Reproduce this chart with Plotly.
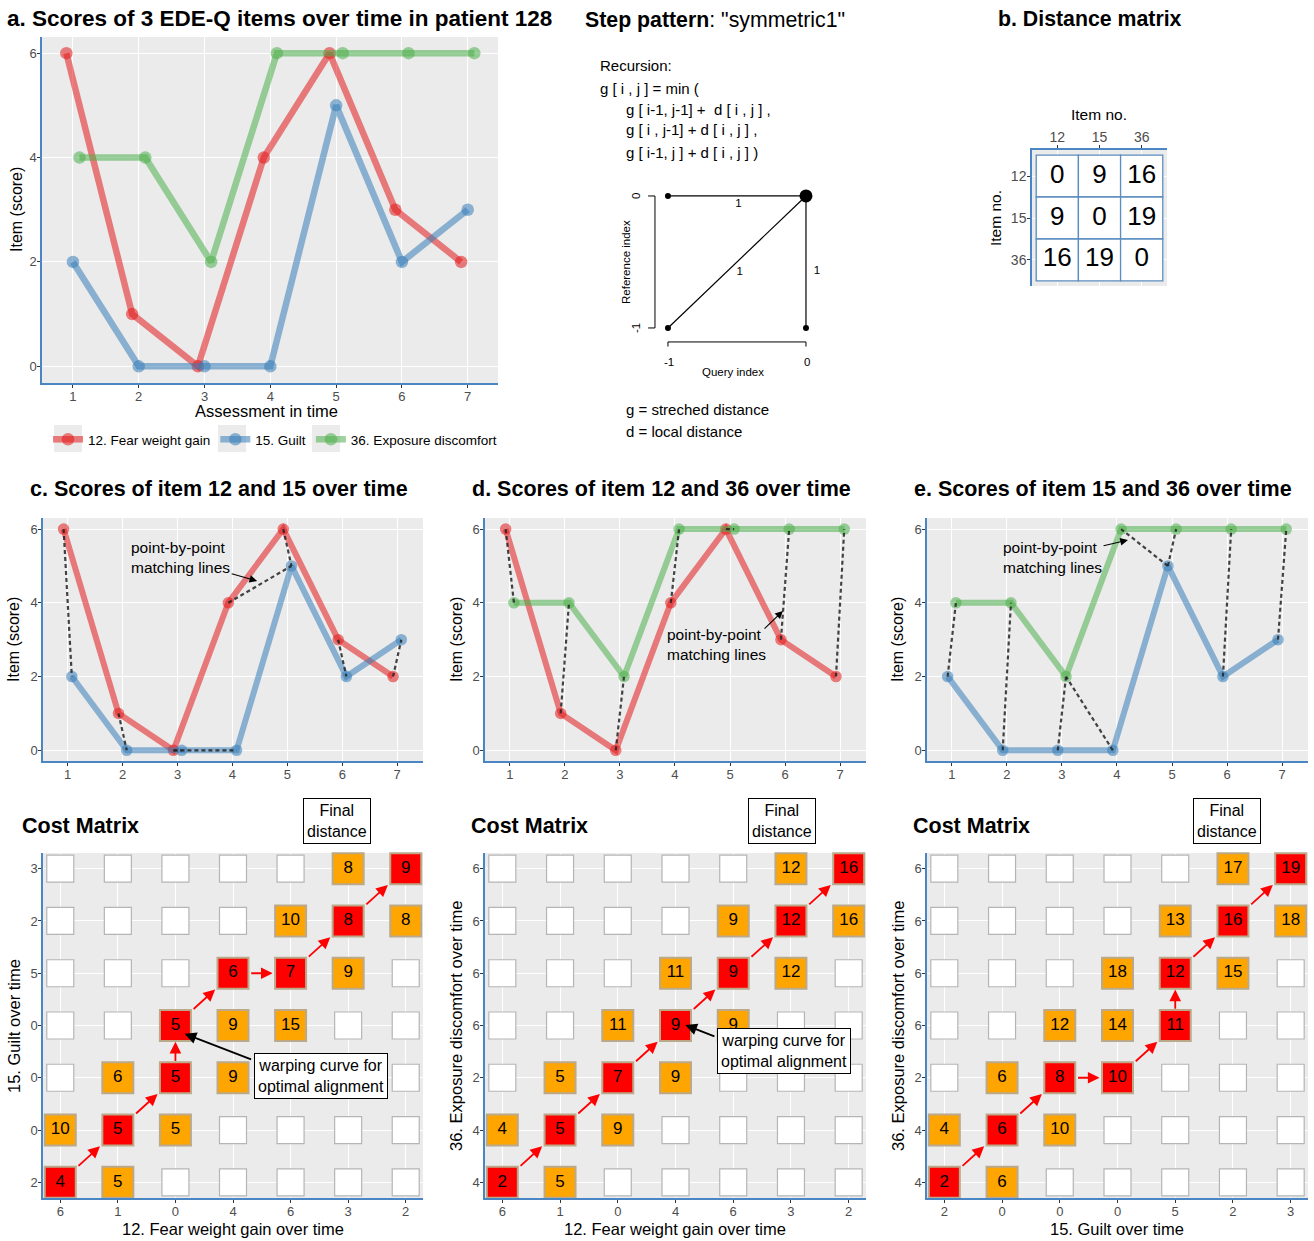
import plotly.graph_objects as go

W, H = 1314, 1241
FONT = "Liberation Sans, Arial, Helvetica, sans-serif"

# ---------------- data ----------------
times = [1, 2, 3, 4, 5, 6, 7]
item12 = [6, 1, 0, 4, 6, 3, 2]
item15 = [2, 0, 0, 0, 5, 2, 3]
item36 = [4, 4, 2, 6, 6, 6, 6]
item_names = ["12. Fear weight gain", "15. Guilt", "36. Exposure discomfort"]
item_ids = ["12", "15", "36"]
line_colors = ["rgba(228,26,28,0.55)", "rgba(55,126,184,0.55)", "rgba(77,175,74,0.55)"]

dist_matrix = [[0, 9, 16],
               [9, 0, 19],
               [16, 19, 0]]

# cumulative DTW cost cells: (query index, reference index, cost)
cost_12_15 = [(1, 1, 4), (2, 1, 5), (1, 2, 10), (2, 2, 5), (3, 2, 5), (2, 3, 6), (3, 3, 5),
              (4, 3, 9), (3, 4, 5), (4, 4, 9), (5, 4, 15), (4, 5, 6), (5, 5, 7), (6, 5, 9),
              (5, 6, 10), (6, 6, 8), (7, 6, 8), (6, 7, 8), (7, 7, 9)]
path_12_15 = [(1, 1), (2, 2), (3, 3), (3, 4), (4, 5), (5, 5), (6, 6), (7, 7)]

cost_12_36 = [(1, 1, 2), (2, 1, 5), (1, 2, 4), (2, 2, 5), (3, 2, 9), (2, 3, 5), (3, 3, 7),
              (4, 3, 9), (3, 4, 11), (4, 4, 9), (5, 4, 9), (4, 5, 11), (5, 5, 9), (6, 5, 12),
              (5, 6, 9), (6, 6, 12), (7, 6, 16), (6, 7, 12), (7, 7, 16)]
path_12_36 = [(1, 1), (2, 2), (3, 3), (4, 4), (5, 5), (6, 6), (7, 7)]

cost_15_36 = [(1, 1, 2), (2, 1, 6), (1, 2, 4), (2, 2, 6), (3, 2, 10), (2, 3, 6), (3, 3, 8),
              (4, 3, 10), (3, 4, 12), (4, 4, 14), (5, 4, 11), (4, 5, 18), (5, 5, 12), (6, 5, 15),
              (5, 6, 13), (6, 6, 16), (7, 6, 18), (6, 7, 17), (7, 7, 19)]
path_15_36 = [(1, 1), (2, 2), (3, 3), (4, 3), (5, 4), (5, 5), (6, 6), (7, 7)]

# step pattern "symmetric1": predecessors of (0,0) with weights
step_from = [(-1, 0), (-1, -1), (0, -1)]
step_weights = [1, 1, 1]


# ---------------- helpers ----------------
def xd(a, b):
    return [a / W, b / W]


def yd(top, bot):
    return [1 - bot / H, 1 - top / H]


def px(x):
    return x / W


def py(y):
    return 1 - y / H


AXIS_BLUE = "#4A86C3"
TICKFONT = dict(family=FONT, size=13, color="#4D4D4D")


def axis(domain, rng, anchor, **kw):
    d = dict(domain=domain, range=rng, anchor=anchor, showgrid=True, gridcolor="white",
             gridwidth=1.1, zeroline=False, showline=True, linecolor=AXIS_BLUE, linewidth=1.5,
             ticks="outside", ticklen=3, tickcolor="#333333", tickwidth=1,
             tickfont=TICKFONT, ticklabelstandoff=-2, fixedrange=True)
    d.update(kw)
    return d


fig = go.Figure()
annotations = []
shapes = []


def text(t, x, y, size=14.5, xanchor="left", yanchor="middle", angle=0, color="black", **kw):
    a = dict(text=t, x=px(x), y=py(y), xref="paper", yref="paper", showarrow=False,
             xanchor=xanchor, yanchor=yanchor, textangle=angle,
             font=dict(family=FONT, size=size, color=color))
    a.update(kw)
    annotations.append(a)


def gray_panel(xa, ya):
    shapes.append(dict(type="rect", xref=xa + " domain", yref=ya + " domain", x0=0, x1=1,
                       y0=0, y1=1, fillcolor="#EBEBEB", line=dict(width=0), layer="below"))


# ---------------- panel a ----------------
series = [item12, item15, item36]
offsets_a = [-0.1, 0.0, 0.1]
for vals, name, col, off in zip(series, item_names, line_colors, offsets_a):
    fig.add_trace(go.Scatter(x=[t + off for t in times], y=vals, mode="lines+markers", name=name,
                             line=dict(color=col, width=6.5),
                             marker=dict(color=col, size=12.5),
                             xaxis="x", yaxis="y", showlegend=True))
gray_panel("x", "y")
# grey key backgrounds behind the legend symbols
for cx in (68, 232, 326):
    shapes.append(dict(type="rect", xref="paper", yref="paper", x0=px(cx - 14), x1=px(cx + 14),
                       y0=py(452), y1=py(425), fillcolor="#EBEBEB", line=dict(width=0),
                       layer="below"))

# ---------------- panel b: distance matrix ----------------
for i, row in enumerate(dist_matrix):
    for j, v in enumerate(row):
        shapes.append(dict(type="rect", xref="x2", yref="y2", x0=j + 0.5, x1=j + 1.5,
                           y0=i + 0.5, y1=i + 1.5, fillcolor="white",
                           line=dict(color="#5B8DC0", width=1.3), layer="between"))
fig.add_trace(go.Scatter(
    x=[j + 1 for i in range(3) for j in range(3)],
    y=[i + 1 for i in range(3) for j in range(3)],
    text=[str(dist_matrix[i][j]) for i in range(3) for j in range(3)],
    mode="text", textfont=dict(family=FONT, size=26, color="black"),
    xaxis="x2", yaxis="y2", showlegend=False, hoverinfo="skip"))
gray_panel("x2", "y2")

# ---------------- step pattern diagram ----------------
seg_x, seg_y = [], []
for (qx, ry) in step_from:
    seg_x += [qx, 0, None]
    seg_y += [ry, 0, None]
fig.add_trace(go.Scatter(x=seg_x, y=seg_y, mode="lines", line=dict(color="black", width=1.2),
                         xaxis="x3", yaxis="y3", showlegend=False, hoverinfo="skip"))
fig.add_trace(go.Scatter(x=[p[0] for p in step_from], y=[p[1] for p in step_from], mode="markers",
                         marker=dict(color="black", size=6), xaxis="x3", yaxis="y3",
                         showlegend=False, hoverinfo="skip", cliponaxis=False))
fig.add_trace(go.Scatter(x=[0], y=[0], mode="markers", marker=dict(color="black", size=13),
                         xaxis="x3", yaxis="y3", showlegend=False, hoverinfo="skip",
                         cliponaxis=False))
# weight labels placed along each step segment
wl_pos = [(-0.49, -0.06), (-0.48, -0.58), (0.08, -0.57)]
fig.add_trace(go.Scatter(x=[p[0] for p in wl_pos], y=[p[1] for p in wl_pos],
                         text=[str(w) for w in step_weights], mode="text",
                         textfont=dict(family=FONT, size=11.5, color="black"),
                         xaxis="x3", yaxis="y3", showlegend=False, hoverinfo="skip"))
# bracket-style axes of the step diagram
bx, by = -1.094, -1.106
shapes += [
    dict(type="line", xref="x3", yref="y3", x0=bx, x1=bx, y0=-1, y1=0, line=dict(color="black", width=1)),
    dict(type="line", xref="x3", yref="y3", x0=bx, x1=bx - 0.05, y0=0, y1=0, line=dict(color="black", width=1)),
    dict(type="line", xref="x3", yref="y3", x0=bx, x1=bx - 0.05, y0=-1, y1=-1, line=dict(color="black", width=1)),
    dict(type="line", xref="x3", yref="y3", x0=-1, x1=0, y0=by, y1=by, line=dict(color="black", width=1)),
    dict(type="line", xref="x3", yref="y3", x0=-1, x1=-1, y0=by, y1=by - 0.035, line=dict(color="black", width=1)),
    dict(type="line", xref="x3", yref="y3", x0=0, x1=0, y0=by, y1=by - 0.035, line=dict(color="black", width=1)),
]

# ---------------- panels c, d, e ----------------
pairs = [
    ("x4", "y4", item12, item15, line_colors[0], line_colors[1], path_12_15),
    ("x5", "y5", item12, item36, line_colors[0], line_colors[2], path_12_36),
    ("x6", "y6", item15, item36, line_colors[1], line_colors[2], path_15_36),
]
dodge = 0.075
for xa, ya, s1, s2, c1, c2, path in pairs:
    for vals, col, off in ((s1, c1, -dodge), (s2, c2, dodge)):
        fig.add_trace(go.Scatter(x=[t + off for t in times], y=vals, mode="lines+markers",
                                 line=dict(color=col, width=6), marker=dict(color=col, size=11.5),
                                 xaxis=xa, yaxis=ya, showlegend=False, hoverinfo="skip"))
    mx, my = [], []
    for (i, j) in path:
        mx += [times[i - 1] - dodge, times[j - 1] + dodge, None]
        my += [s1[i - 1], s2[j - 1], None]
    fig.add_trace(go.Scatter(x=mx, y=my, mode="lines",
                             line=dict(color="rgba(35,35,35,0.85)", width=2.2, dash="4px,3px"),
                             xaxis=xa, yaxis=ya, showlegend=False, hoverinfo="skip"))
    gray_panel(xa, ya)

# ---------------- cost matrices ----------------
costs = [
    ("x7", "y7", cost_12_15, path_12_15),
    ("x8", "y8", cost_12_36, path_12_36),
    ("x9", "y9", cost_15_36, path_15_36),
]
for xa, ya, cells, path in costs:
    filled = {(c[0], c[1]) for c in cells}
    wx = [q for q in range(1, 8) for r in range(1, 8) if (q, r) not in filled]
    wy = [r for q in range(1, 8) for r in range(1, 8) if (q, r) not in filled]
    fig.add_trace(go.Scatter(x=wx, y=wy, mode="markers",
                             marker=dict(symbol="square", size=27, color="white",
                                         line=dict(color="#B5B5B5", width=1.2)),
                             xaxis=xa, yaxis=ya, showlegend=False, hoverinfo="skip"))
    on = set(path)
    for sel, fill in ((False, "#FFA500"), (True, "#FF0000")):
        sub = [c for c in cells if ((c[0], c[1]) in on) == sel]
        fig.add_trace(go.Scatter(x=[c[0] for c in sub], y=[c[1] for c in sub], mode="markers+text",
                                 text=[str(c[2]) for c in sub], textposition="middle center",
                                 textfont=dict(family=FONT, size=17, color="black"),
                                 marker=dict(symbol="square", size=31, color=fill,
                                             line=dict(color="#BBA98A", width=2)),
                                 xaxis=xa, yaxis=ya, showlegend=False, hoverinfo="skip",
                                 cliponaxis=False))
    gray_panel(xa, ya)
    # warping path arrows
    for (a0, b0), (a1, b1) in zip(path[:-1], path[1:]):
        dxs, dys = a1 - a0, b1 - b0
        annotations.append(dict(x=a1 - 0.31 * dxs, y=b1 - 0.31 * dys, ax=a0 + 0.29 * dxs,
                                ay=b0 + 0.29 * dys, xref=xa, yref=ya, axref=xa, ayref=ya,
                                text="", showarrow=True, arrowhead=2, arrowsize=1.3,
                                arrowwidth=1.8, arrowcolor="#FF0000", standoff=0))

# ---------------- layout axes ----------------
layout_axes = {}
layout_axes["xaxis"] = axis(xd(42, 498), [0.53, 7.46], "y", tickvals=times)
layout_axes["yaxis"] = axis(yd(37, 383), [-0.32, 6.31], "x", tickvals=[0, 2, 4, 6])

layout_axes["xaxis2"] = axis(xd(1032, 1167), [0.4, 3.6], "y2", side="top", tickvals=[1, 2, 3],
                             ticktext=item_ids, tickfont=dict(family=FONT, size=14, color="#4D4D4D"))
layout_axes["yaxis2"] = axis(yd(150, 286), [3.62, 0.38], "x2", tickvals=[1, 2, 3], ticktext=item_ids,
                             tickfont=dict(family=FONT, size=14, color="#4D4D4D"))

layout_axes["xaxis3"] = dict(domain=xd(630, 830), range=[-1.275, 0.174], anchor="y3", visible=False,
                             fixedrange=True)
layout_axes["yaxis3"] = dict(domain=yd(180, 350), range=[-1.167, 0.121], anchor="x3", visible=False,
                             fixedrange=True)

for k, (x0, x1) in zip((4, 5, 6), ((43, 423), (485, 866), (927, 1308))):
    layout_axes[f"xaxis{k}"] = axis(xd(x0, x1), [0.55, 7.47], f"y{k}", tickvals=times)
    layout_axes[f"yaxis{k}"] = axis(yd(518, 761), [-0.29, 6.3], f"x{k}", tickvals=[0, 2, 4, 6])

cost_ticks = [(item12, item15), (item12, item36), (item15, item36)]
for k, (x0, x1), (qx, ry) in zip((7, 8, 9), ((43, 423), (485, 866), (927, 1308)), cost_ticks):
    layout_axes[f"xaxis{k}"] = axis(xd(x0, x1), [0.7, 7.3], f"y{k}", tickvals=times,
                                    ticktext=[str(v) for v in qx])
    layout_axes[f"yaxis{k}"] = axis(yd(853, 1198), [0.7, 7.3], f"x{k}", tickvals=times,
                                    ticktext=[str(v) for v in ry])

# ---------------- text ----------------
text("<b>a. Scores of 3 EDE-Q items over time in patient 128</b>", 5, 19, 22.5)
text("<b>b. Distance matrix</b>", 1090, 19, 21.3, xanchor="center")
text("<b>Step pattern</b>: \"symmetric1\"", 583, 20, 21.3)
text("<b>c. Scores of item 12 and 15 over time</b>", 28, 489, 21.5)
text("<b>d. Scores of item 12 and 36 over time</b>", 470, 489, 21.5)
text("<b>e. Scores of item 15 and 36 over time</b>", 912, 489, 21.5)
for x in (20, 469, 911):
    text("<b>Cost Matrix</b>", x, 826, 21.5)

text("Assessment in time", 266, 411, 16.5, xanchor="center")
text("Item (score)", 16, 210, 16, xanchor="center", angle=-90)
for x in (14, 457, 898):
    text("Item (score)", x, 640, 16, xanchor="center", angle=-90)

text("Item no.", 1099, 114, 15.5, xanchor="center")
text("Item no.", 995, 218, 15.5, xanchor="center", angle=-90)

text("12. Fear weight gain over time", 233, 1229, 16.5, xanchor="center")
text("12. Fear weight gain over time", 675, 1229, 16.5, xanchor="center")
text("15. Guilt over time", 1117, 1229, 16.5, xanchor="center")
text("15. Guilt over time", 14, 1026, 16.5, xanchor="center", angle=-90)
text("36. Exposure discomfort over time", 456, 1026, 16.5, xanchor="center", angle=-90)
text("36. Exposure discomfort over time", 898, 1026, 16.5, xanchor="center", angle=-90)

# recursion text
RS = 15
text("Recursion:", 598, 66, RS)
text("g [ i , j ] = min (", 598, 88, RS)
text("g [ i-1, j-1] +  d [ i , j ] ,", 624, 109, RS)
text("g [ i , j-1] + d [ i , j ] ,", 624, 130, RS)
text("g [ i-1, j ] + d [ i , j ] )", 624, 152, RS)
text("g = streched distance", 624, 409, RS)
text("d = local distance", 624, 431, RS)
# step diagram axis labels
text("0", 636, 196, 11.5, xanchor="center", angle=-90)
text("-1", 636, 328, 11.5, xanchor="center", angle=-90)
text("Reference index", 626, 262, 11.5, xanchor="center", angle=-90)
text("-1", 669, 362, 11.5, xanchor="center")
text("0", 807, 362, 11.5, xanchor="center")
text("Query index", 733, 372, 11.5, xanchor="center")

# point-by-point annotations
arrow_kw = dict(text="", showarrow=True, arrowhead=2, arrowsize=1.4, arrowwidth=1.1,
                arrowcolor="black", standoff=0)
annotations.append(dict(xref="x4", yref="y4", axref="x4", ayref="y4", x=4.45, y=4.59,
                        ax=3.96, ay=4.80, **arrow_kw))
annotations.append(dict(xref="x5", yref="y5", axref="x5", ayref="y5", x=5.96, y=3.78,
                        ax=5.60, ay=3.26, **arrow_kw))
annotations.append(dict(xref="x6", yref="y6", axref="x6", ayref="y6", x=4.20, y=5.70,
                        ax=3.73, ay=5.54, **arrow_kw))
PB = 15.5
text("point-by-point<br>matching lines", 129, 557, PB, align="left")
text("point-by-point<br>matching lines", 665, 644, PB, align="left")
text("point-by-point<br>matching lines", 1001, 557, PB, align="left")

# final distance / warping curve call-outs
big_arrow = dict(text="", showarrow=True, arrowhead=2, arrowsize=1.3, arrowwidth=1.8,
                 arrowcolor="black", standoff=0)
annotations.append(dict(xref="x7", yref="y7", axref="x7", ayref="y7", x=6.89, y=7.36,
                        ax=6.42, ay=7.84, **big_arrow))
annotations.append(dict(xref="x8", yref="y8", axref="x8", ayref="y8", x=6.94, y=7.38,
                        ax=6.47, ay=7.84, **big_arrow))
annotations.append(dict(xref="x9", yref="y9", axref="x9", ayref="y9", x=6.99, y=7.38,
                        ax=6.52, ay=7.84, **big_arrow))
annotations.append(dict(xref="x7", yref="y7", axref="x7", ayref="y7", x=3.16, y=3.84,
                        ax=4.34, ay=3.34, **big_arrow))
annotations.append(dict(xref="x8", yref="y8", axref="x8", ayref="y8", x=4.17, y=4.01,
                        ax=4.70, ay=3.78, **big_arrow))
box_kw = dict(bgcolor="white", bordercolor="black", borderwidth=1, borderpad=3, align="center")
BS = 16
for cx in (337, 782, 1227):
    text("Final<br>distance", cx, 821, BS, xanchor="center", **box_kw)
text("warping curve for<br>optimal alignment", 321, 1076, BS, xanchor="center", **box_kw)
text("warping curve for<br>optimal alignment", 784, 1051, BS, xanchor="center", **box_kw)

fig.update_layout(
    width=W, height=H, margin=dict(l=0, r=0, t=0, b=0),
    paper_bgcolor="white", plot_bgcolor="rgba(0,0,0,0)",
    font=dict(family=FONT, color="black"),
    showlegend=True,
    legend=dict(orientation="h", x=px(48), y=py(424), xanchor="left", yanchor="top",
                font=dict(family=FONT, size=13.5, color="black"), bgcolor="rgba(0,0,0,0)",
                itemwidth=30, tracegroupgap=0),
    annotations=annotations, shapes=shapes,
    **layout_axes,
)

fig.write_html("out.html")
